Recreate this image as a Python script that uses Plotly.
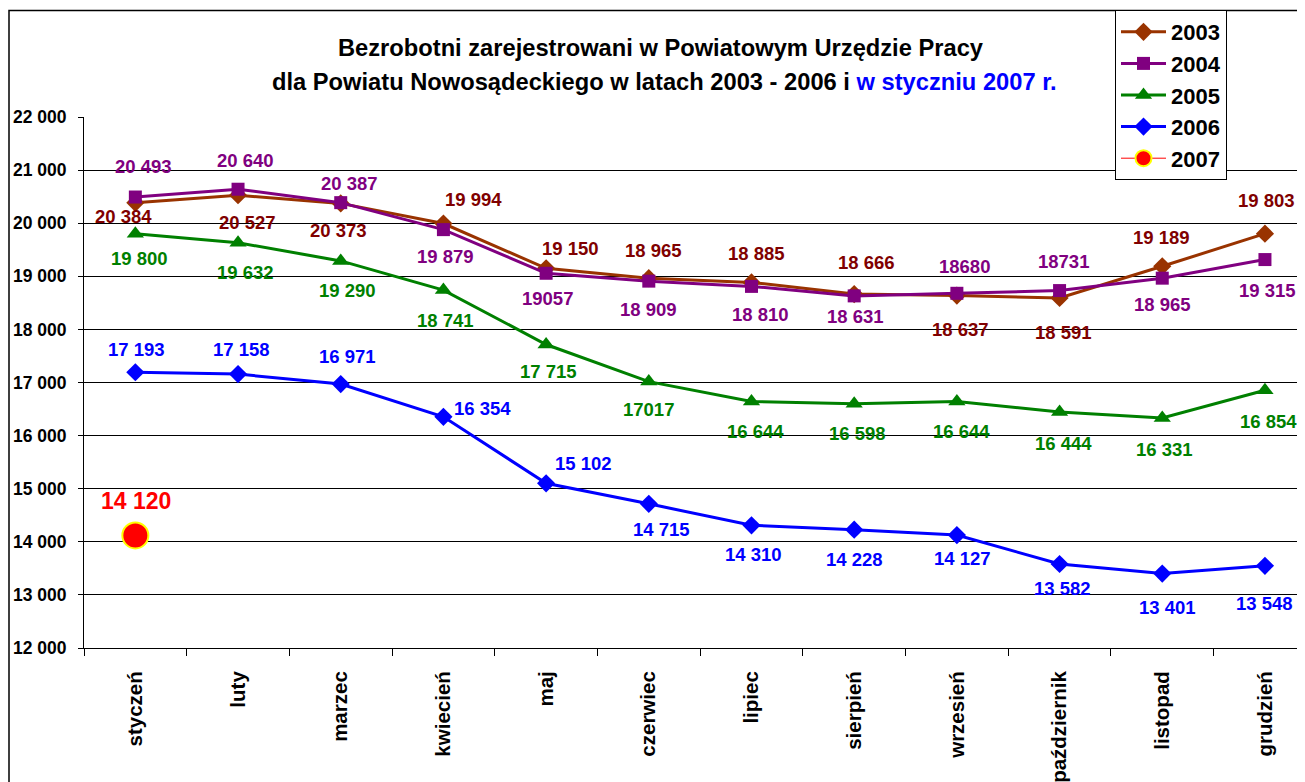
import plotly.graph_objects as go

months = ["styczeń", "luty", "marzec", "kwiecień", "maj", "czerwiec", "lipiec",
          "sierpień", "wrzesień", "październik", "listopad", "grudzień"]

v2003 = [20384, 20527, 20373, 19994, 19150, 18965, 18885, 18666, 18637, 18591, 19189, 19803]
v2004 = [20493, 20640, 20387, 19879, 19057, 18909, 18810, 18631, 18680, 18731, 18965, 19315]
v2005 = [19800, 19632, 19290, 18741, 17715, 17017, 16644, 16598, 16644, 16444, 16331, 16854]
v2006 = [17193, 17158, 16971, 16354, 15102, 14715, 14310, 14228, 14127, 13582, 13401, 13548]
v2007 = [14120]
months2007 = ["styczeń"]

t2003 = ["20 384", "20 527", "20 373", "19 994", "19 150", "18 965", "18 885", "18 666", "18 637", "18 591", "19 189", "19 803"]
t2004 = ["20 493", "20 640", "20 387", "19 879", "19057", "18 909", "18 810", "18 631", "18680", "18731", "18 965", "19 315"]
t2005 = ["19 800", "19 632", "19 290", "18 741", "17 715", "17017", "16 644", "16 598", "16 644", "16 444", "16 331", "16 854"]
t2006 = ["17 193", "17 158", "16 971", "16 354", "15 102", "14 715", "14 310", "14 228", "14 127", "13 582", "13 401", "13 548"]
t2007 = ["14 120"]

# label offsets in pixels (dx right, dy down) -- styling only
o2003 = [(-12, 14), (9, 27), (-2, 27), (30, -24), (24, -20), (5, -28), (5, -29), (12, -32), (4, 34), (4, 34), (-1, -29), (2, -33)]
o2004 = [(8, -31), (7, -29), (9, -19), (2, 27), (1, 25), (0, 28), (9, 28), (1, 21), (8, -27), (4, -29), (0, 26), (3, 31)]
o2005 = [(4, 25), (7, 30), (7, 30), (2, 30), (2, 27), (0, 28), (4, 30), (3, 30), (5, 30), (4, 31), (2, 31), (4, 31)]
o2006 = [(1, -23), (3, -25), (7, -28), (39, -8), (37, -20), (13, 26), (2, 29), (0, 30), (6, 23), (3, 24), (5, 34), (0, 38)]
o2007 = [(1, -34)]

FONT = "Liberation Sans, Arial, sans-serif"

fig = go.Figure()

series = [
    ("2003", months, v2003, "#993300", "diamond", 14, "#800000", t2003, o2003),
    ("2004", months, v2004, "#800080", "square", 13, "#800080", t2004, o2004),
    ("2005", months, v2005, "#008000", "triangle-up", 15, "#008000", t2005, o2005),
    ("2006", months, v2006, "#0000FF", "diamond", 14, "#0000FF", t2006, o2006),
]

for name, xs, ys, col, sym, msize, lcol, texts, offs in series:
    fig.add_trace(go.Scatter(
        x=xs, y=ys, name=name, mode="lines+markers", legendgroup=name,
        line=dict(color=col, width=3),
        marker=dict(symbol=sym, size=msize, color=col),
        cliponaxis=False,
    ))
    for x, y, t, (dx, dy) in zip(xs, ys, texts, offs):
        fig.add_annotation(x=x, y=y, text=t, showarrow=False, xshift=dx, yshift=-dy,
                           font=dict(family=FONT, size=18.5, color=lcol, weight="bold"))

fig.add_trace(go.Scatter(
    x=months2007, y=v2007, name="2007", mode="lines+markers", legendgroup="2007",
    line=dict(color="#FF0000", width=1),
    marker=dict(symbol="circle", size=26, color="#FF0000", line=dict(color="#FFFF00", width=2)),
    cliponaxis=False,
))
for x, y, t, (dx, dy) in zip(months2007, v2007, t2007, o2007):
    fig.add_annotation(x=x, y=y, text=t, showarrow=False, xshift=dx, yshift=-dy,
                       font=dict(family=FONT, size=23, color="#FF0000", weight="bold"))

# page body has an 8px margin: work in reference pixel coords shifted by OFF
OFF = 8
W, H = 1305 - OFF, 782 - OFF
ml, mr, mt = 84 - OFF, 0, 117 - OFF
mb = H - (648 - OFF)
pw, ph = W - ml - mr, H - mt - mb

def px(x):
    return (x - OFF - ml) / pw

def py(y):
    return (H - mb - (y - OFF)) / ph

# title lines
fig.add_annotation(xref="paper", yref="paper", x=px(661), y=py(48), text="Bezrobotni zarejestrowani w Powiatowym Urzędzie Pracy",
                   showarrow=False, xanchor="center", yanchor="middle",
                   font=dict(family=FONT, size=23.7, color="black", weight="bold"))
fig.add_annotation(xref="paper", yref="paper", x=px(664), y=py(82),
                   text="dla Powiatu Nowosądeckiego w latach 2003 - 2006 i <span style='color:#0000FF'>w styczniu 2007 r.</span>",
                   showarrow=False, xanchor="center", yanchor="middle",
                   font=dict(family=FONT, size=23.7, color="black", weight="bold"))

# outer frame
fig.add_shape(type="rect", xref="paper", yref="paper", x0=px(9), x1=px(1400), y0=py(900), y1=py(10.5),
              line=dict(color="black", width=1.5), fillcolor="rgba(0,0,0,0)", layer="below")

fig.update_layout(
    width=W, height=H,
    margin=dict(l=ml, r=mr, t=mt, b=mb, autoexpand=False),
    paper_bgcolor="white", plot_bgcolor="white",
    separators=", ",
    font=dict(family=FONT, color="black"),
    showlegend=True,
    legend=dict(x=px(1115), y=py(10), xanchor="left", yanchor="top",
                bgcolor="white", bordercolor="black", borderwidth=1,
                font=dict(family=FONT, size=22, color="black", weight="bold"),
                itemwidth=45, tracegroupgap=6, traceorder="normal"),
)

fig.update_xaxes(type="category", categoryorder="array", categoryarray=months,
                 range=[-0.5, 11.39], showgrid=False, showline=True, linecolor="black", linewidth=1,
                 ticks="outside", tickson="boundaries", ticklen=7, tickcolor="black",
                 tickangle=-90, ticklabelstandoff=14, automargin=False,
                 tickfont=dict(family=FONT, size=20.5, color="black", weight="bold"))
fig.update_yaxes(range=[12000, 22000], dtick=1000, tickformat=",d",
                 showgrid=True, gridcolor="black", gridwidth=1,
                 showline=True, linecolor="black", linewidth=1,
                 ticks="outside", ticklen=5, tickcolor="black", ticklabelstandoff=8,
                 automargin=False,
                 tickfont=dict(family=FONT, size=17.5, color="black", weight="bold"),
                 zeroline=False)

fig.write_html("out.html")
